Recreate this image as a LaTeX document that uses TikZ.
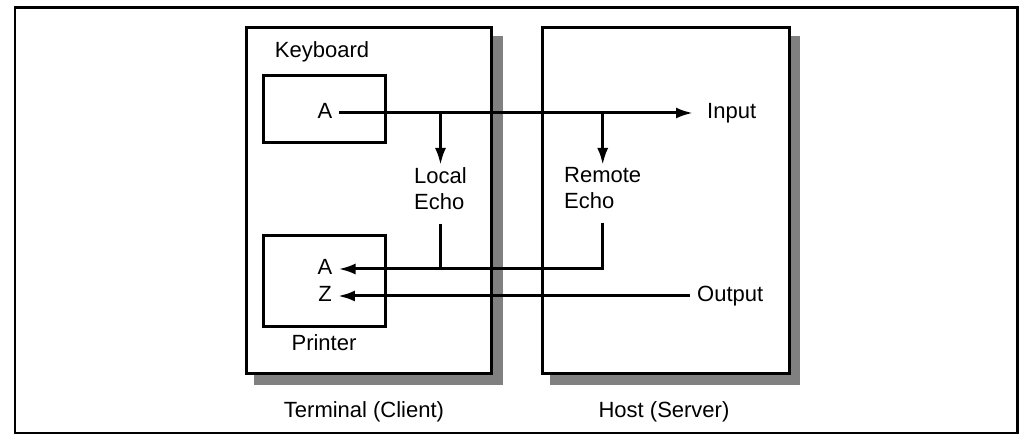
\documentclass[tikz,border=0pt]{standalone}
\usepackage{fontspec}
\setmainfont{Liberation Sans}
\usetikzlibrary{arrows.meta}
\definecolor{shadowgray}{HTML}{808080}
\tikzset{
  box/.style={draw, line width=3pt, fill=white, outer sep=0pt, inner sep=0pt},
  lab/.style={font=\fontsize{22}{26}\selectfont, inner sep=2pt, text height=16pt, text depth=5pt},
  echolab/.style={font=\fontsize{22}{26}\selectfont, inner sep=2pt, align=left, anchor=north west},
  conn/.style={line width=3pt},
  arr/.style={conn, -{Latex[length=17pt,width=11pt]}},
}
\begin{document}
\begin{tikzpicture}[x=1pt,y=-1pt]
\useasboundingbox (0,0) rectangle (1030,435);
% outer frame
\node[draw, line width=2.5pt, minimum width=1002.5pt, minimum height=425.5pt, inner sep=0pt, outer sep=0pt] (frame) at (516.25,220.25) {};
% big boxes (positions first, to place shadows)
\node[minimum width=245pt, minimum height=345pt, inner sep=0pt, outer sep=0pt] (termpos) at (368.5,200.5) {};
\node[minimum width=247pt, minimum height=345pt, inner sep=0pt, outer sep=0pt] (hostpos) at (665.5,200.5) {};
\fill[shadowgray] ([shift={(8,8)}]termpos.north west) rectangle ([shift={(12,12)}]termpos.south east);
\fill[shadowgray] ([shift={(8,8)}]hostpos.north west) rectangle ([shift={(11,12)}]hostpos.south east);
\node[box, minimum width=245pt, minimum height=345pt] (term) at (368.5,200.5) {};
\node[box, minimum width=247pt, minimum height=345pt] (host) at (665.5,200.5) {};
% keyboard and printer
\node[box, minimum width=122pt, minimum height=67pt] (kbd) at (324,109.5) {};
\node[box, minimum width=122pt, minimum height=91pt] (prn) at (324,281.5) {};
% labels
\node[lab] (kbdlab) at (322,52.5) {Keyboard};
\node[lab] (prnlab) at (324,344.5) {Printer};
\node[lab] (termlab) at (364,412) {Terminal (Client)};
\node[lab] (hostlab) at (664,412) {Host (Server)};
\node[lab] (kA) at (325,113) {A};
\node[lab] (pA) at (325,269) {A};
\node[lab] (pZ) at (325,296) {Z};
\node[lab, anchor=west] (inp) at (705,113) {Input};
\node[lab, anchor=west] (outp) at (695,296) {Output};
\node[echolab] (le) at (412,165) {Local\\Echo};
\node[echolab] (re) at (562,165) {Remote\\Echo};
% connectors
\draw[arr, shorten <=4pt, shorten >=12pt] (kA.east) -- (inp.west |- kA.east);
\draw[arr] (le.north |- kA.east) -- (le.north);
\draw[arr] (re.north |- kA.east) -- (re.north);
\draw[conn, shorten <=12pt] (le.south) -- (le.south |- pA.east);
\draw[arr, shorten >=4pt] (re.south) ++(0,12) -- (re.south |- pA.east) -- (pA.east);
\draw[arr, shorten <=5pt, shorten >=4pt] (outp.west) -- (pZ.east);
\end{tikzpicture}
\end{document}
